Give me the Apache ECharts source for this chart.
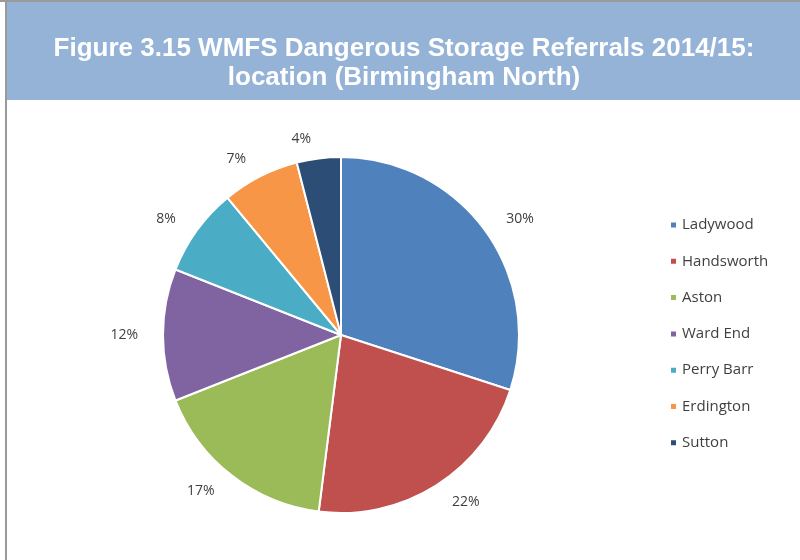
<!DOCTYPE html>
<html>
<head>
<meta charset="utf-8">
<script src="https://cdn.jsdelivr.net/npm/echarts@6/dist/echarts.min.js"></script>
<style>
  html, body { margin: 0; padding: 0; background: #fff; }
  #chart { width: 800px; height: 560px; }
</style>
</head>
<body>
<div id="chart"></div>
<script>
// Birmingham North referral locations
var locations = ['Ladywood', 'Handsworth', 'Aston', 'Ward End', 'Perry Barr', 'Erdington', 'Sutton'];
var shares = [30, 22, 17, 12, 8, 7, 4];
var sliceColors = ['#4F81BD', '#C0504D', '#9BBB59', '#8064A2', '#4BACC6', '#F79646', '#2C4D75'];

var chart = echarts.init(document.getElementById('chart'));

var option = {
    animation: false,
    color: sliceColors,
    title: {
        text: 'Figure 3.15 WMFS Dangerous Storage Referrals 2014/15:\nlocation (Birmingham North)',
        left: 399,
        textAlign: 'center',
        top: 29,
        textStyle: {
            color: '#fff',
            fontFamily: 'Liberation Sans, Arial',
            fontWeight: 'bold',
            fontSize: 26,
            lineHeight: 29
        }
    },
    graphic: [
        { type: 'rect', z: -10, shape: { x: 0, y: 0, width: 800, height: 2 }, style: { fill: '#9a9a9a' } },
        { type: 'rect', z: -10, shape: { x: 5, y: 0, width: 2, height: 560 }, style: { fill: '#9a9a9a' } },
        { type: 'rect', z: -9, shape: { x: 7, y: 2, width: 793, height: 98 }, style: { fill: '#95B3D7' } }
    ],
    legend: {
        orient: 'vertical',
        left: 664,
        top: 210,
        icon: 'rect',
        itemWidth: 7,
        itemHeight: 7,
        itemGap: 16.3,
        textStyle: {
            color: '#404040',
            fontFamily: 'Open Sans, Noto Sans',
            fontSize: 15,
            lineHeight: 20
        },
        data: locations
    },
    series: [{
        type: 'pie',
        center: [341, 335],
        radius: 178,
        startAngle: 90,
        clockwise: true,
        itemStyle: { borderColor: '#fff', borderWidth: 2 },
        label: {
            show: true,
            position: 'outside',
            formatter: '{c}%',
            color: '#404040',
            fontFamily: 'Open Sans, Noto Sans',
            fontSize: 14
        },
        labelLine: { show: false, length: 20, length2: 0 },
        data: locations.map(function (name, i) {
            return { name: name, value: shares[i] };
        })
    }]
};

chart.setOption(option);
</script>
</body>
</html>
